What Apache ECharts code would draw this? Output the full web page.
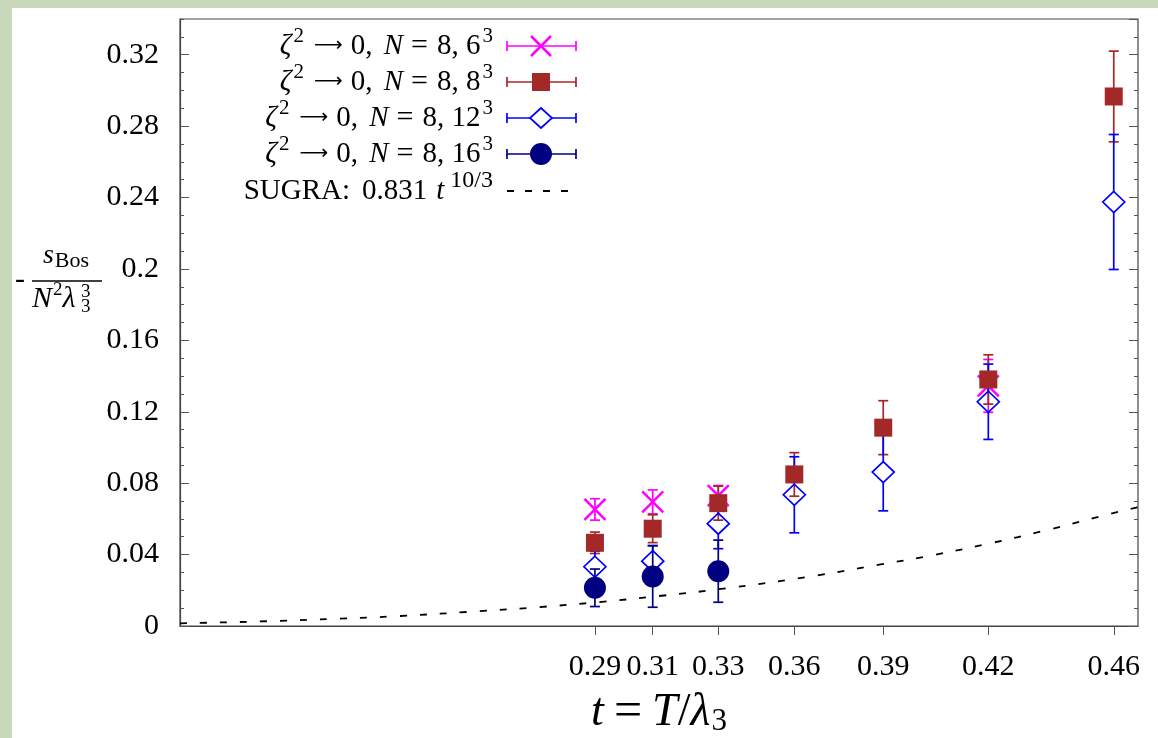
<!DOCTYPE html>
<html><head><meta charset="utf-8">
<script src="https://cdn.jsdelivr.net/npm/echarts@6/dist/echarts.min.js"></script>
<style>
html,body{margin:0;padding:0;background:#fff;width:1158px;height:738px;overflow:hidden}
#stripL{position:absolute;left:0;top:0;width:12px;height:738px;background:#c9d8bb}
#stripT{position:absolute;left:0;top:0;width:1158px;height:8px;background:#c9d8bb}
#chart{position:absolute;left:0;top:0;width:1158px;height:738px}
</style></head><body>
<div id="stripL"></div><div id="stripT"></div><div id="chart"></div>
<script>
// ---- data ----
const tValues   = [0.2886, 0.3079, 0.3298, 0.3552, 0.3849, 0.4200, 0.4619];
const tickLabels = ['0.29', '0.31', '0.33', '0.36', '0.39', '0.42', '0.46'];

const s6Vals  = [0.0653, 0.0695, 0.0730, null, null, 0.1345, null];
const s6Errs  = [0.0060, 0.0067, 0.0057, null, null, 0.0148, null];
const s8Vals  = [0.0466, 0.0545, 0.0688, 0.0849, 0.1111, 0.1381, 0.2966];
const s8Errs  = [0.0060, 0.0078, 0.0095, 0.0122, 0.0151, 0.0138, 0.0254];
const s12Vals = [0.0332, 0.0363, 0.0573, 0.0735, 0.0862, 0.1256, 0.2375];
const s12Errs = [0.0087, 0.0088, 0.0140, 0.0213, 0.0217, 0.0211, 0.0378];
const s16Vals = [0.0214, 0.0277, 0.0307, null, null, null, null];
const s16Errs = [0.0105, 0.0172, 0.0174, null, null, null, null];

const sugraT    = [0.15, 0.18, 0.20, 0.22, 0.25, 0.27, 0.29, 0.31, 0.33, 0.36, 0.384, 0.40, 0.42, 0.44, 0.46, 0.47];
const sugraVals = [0.0015, 0.0027, 0.0039, 0.0053, 0.0083, 0.0106, 0.0134, 0.0168, 0.0206, 0.0276, 0.0345, 0.0392, 0.0461, 0.0539, 0.0625, 0.0665];

// ---- styling ----
const F = '"Liberation Serif", "DejaVu Serif", serif';
const FA = '"DejaVu Sans", "DejaVu Serif", sans-serif';
const C6 = '#ff00ff', C8 = '#a32828', C12 = '#0000ff', C16 = '#000080';

function pts(vals, errs) {
  const out = [];
  vals.forEach((v, i) => { if (v !== null) out.push([tValues[i], v, errs[i]]); });
  return out;
}

function errBar(color, gap) {
  return function (params, api) {
    const x = api.value(0), y = api.value(1), e = api.value(2);
    const c = api.coord([x, y]);
    const top = api.coord([x, y + e]);
    const bot = api.coord([x, y - e]);
    const cap = 5;
    const st = { stroke: color, lineWidth: 1.7 };
    const ch = [];
    if (gap > 0) {
      if (c[1] - gap > top[1]) ch.push({ type: 'line', shape: { x1: c[0], y1: top[1], x2: c[0], y2: c[1] - gap }, style: st });
      if (c[1] + gap < bot[1]) ch.push({ type: 'line', shape: { x1: c[0], y1: c[1] + gap, x2: c[0], y2: bot[1] }, style: st });
    } else {
      ch.push({ type: 'line', shape: { x1: c[0], y1: top[1], x2: c[0], y2: bot[1] }, style: st });
    }
    ch.push({ type: 'line', shape: { x1: c[0] - cap, y1: top[1], x2: c[0] + cap, y2: top[1] }, style: st });
    ch.push({ type: 'line', shape: { x1: c[0] - cap, y1: bot[1], x2: c[0] + cap, y2: bot[1] }, style: st });
    return { type: 'group', children: ch };
  };
}

function errSeries(name, vals, errs, color, gap) {
  return { name: name, type: 'custom', renderItem: errBar(color, gap), data: pts(vals, errs),
           encode: { x: 0, y: 1 }, z: 3, silent: true, clip: false };
}

const XPATH = 'path://M0,0L20,20M20,0L0,20';

// rich styles for legend text
const legRich = {
  r:   { fontSize: 29, fontFamily: F, color: '#000' },
  g:   { fontSize: 29, fontFamily: F, color: '#000', padding: [0, 0, 0, 12] },
  i:   { fontSize: 29, fontFamily: F, fontStyle: 'italic', color: '#000' },
  n:   { fontSize: 29, fontFamily: F, fontStyle: 'italic', color: '#000', padding: [0, 0, 0, 4] },
  t:   { fontSize: 29, fontFamily: F, fontStyle: 'italic', color: '#000', padding: [0, 2, 0, 9] },
  arr: { fontSize: 20, fontFamily: FA, color: '#000', padding: [0, 8, 0, 10] },
  eq:  { fontSize: 30, fontFamily: F, color: '#000', padding: [0, 9, 0, 8] },
  sup: { fontSize: 21, fontFamily: F, color: '#000', padding: [0, 0, 20, 2] },
  sup2:{ fontSize: 24, fontFamily: F, color: '#000', padding: [0, 0, 20, 4] }
};

// ---- legend (drawn as graphic) ----
const legTxt = (n) => '{i|ζ}{sup|2}{arr|⟶}{r|0, }{n|N}{eq|=}{r|8, ' + n + '}{sup|3}';
const legendRows = [
  { y: 46,  color: C6,  mark: 'x',       text: legTxt('6') },
  { y: 82,  color: C8,  mark: 'square',  text: legTxt('8') },
  { y: 118, color: C12, mark: 'diamond', text: legTxt('12') },
  { y: 154, color: C16, mark: 'circle',  text: legTxt('16') },
  { y: 191, color: '#000', mark: 'dash', text: '{r|SUGRA:}{g|0.831}{t|t}{sup2|10/3}' }
];
const LX1 = 507, LX2 = 576, LXM = 541;
const legendEls = [];
legendRows.forEach(r => {
  legendEls.push({ type: 'text', x: 493, y: r.y, style: { text: r.text, rich: legRich, align: 'right', verticalAlign: 'middle', font: '29px ' + F, fill: '#000' } });
  if (r.mark === 'dash') {
    legendEls.push({ type: 'line', shape: { x1: LX1, y1: r.y, x2: LX2, y2: r.y }, style: { stroke: '#000', lineWidth: 1.8, lineDash: [7, 11] } });
    return;
  }
  const st = { stroke: r.color, lineWidth: 1.7 };
  legendEls.push({ type: 'line', shape: { x1: LX1, y1: r.y, x2: LX2, y2: r.y }, style: st });
  legendEls.push({ type: 'line', shape: { x1: LX1, y1: r.y - 5, x2: LX1, y2: r.y + 5 }, style: st });
  legendEls.push({ type: 'line', shape: { x1: LX2, y1: r.y - 5, x2: LX2, y2: r.y + 5 }, style: st });
  if (r.mark === 'x') {
    legendEls.push({ type: 'line', shape: { x1: LXM - 10, y1: r.y - 10, x2: LXM + 10, y2: r.y + 10 }, style: { stroke: r.color, lineWidth: 2.5 } });
    legendEls.push({ type: 'line', shape: { x1: LXM - 10, y1: r.y + 10, x2: LXM + 10, y2: r.y - 10 }, style: { stroke: r.color, lineWidth: 2.5 } });
  } else if (r.mark === 'square') {
    legendEls.push({ type: 'rect', shape: { x: LXM - 9, y: r.y - 9, width: 18, height: 18 }, style: { fill: r.color } });
  } else if (r.mark === 'diamond') {
    legendEls.push({ type: 'polygon', shape: { points: [[LXM, r.y - 10], [LXM + 11, r.y], [LXM, r.y + 10], [LXM - 11, r.y]] }, style: { fill: '#fff', stroke: r.color, lineWidth: 1.7 } });
  } else if (r.mark === 'circle') {
    legendEls.push({ type: 'circle', shape: { cx: LXM, cy: r.y, r: 11 }, style: { fill: r.color } });
  }
});

// ---- y-axis title (fraction) ----
const yTitle = [
  { type: 'text', x: 20, y: 280, style: { text: '-', font: '30px ' + F, fill: '#000', align: 'center', verticalAlign: 'middle' } },
  { type: 'text', x: 66, y: 256, style: { text: '{i|s}{sub|Bos}', rich: { i: { fontSize: 28, fontFamily: F, fontStyle: 'italic' }, sub: { fontSize: 22, fontFamily: F, padding: [11, 0, 0, 1] } }, align: 'center', verticalAlign: 'middle', fill: '#000' } },
  { type: 'line', shape: { x1: 32, y1: 281, x2: 102, y2: 281 }, style: { stroke: '#000', lineWidth: 1.3 } },
  { type: 'text', x: 32, y: 299, style: { text: '{i|N}{sup|2}{i|λ}', rich: { i: { fontSize: 30, fontFamily: F, fontStyle: 'italic' }, sup: { fontSize: 19, fontFamily: F, padding: [0, 0, 18, 1] } }, align: 'left', verticalAlign: 'middle', fill: '#000' } },
  { type: 'text', x: 81, y: 292, style: { text: '3', font: '19px ' + F, fill: '#000', align: 'left', verticalAlign: 'middle' } },
  { type: 'text', x: 81, y: 307, style: { text: '3', font: '19px ' + F, fill: '#000', align: 'left', verticalAlign: 'middle' } }
];

function yAxisDef(pos, interval, len, labels) {
  return {
    type: 'value', position: pos, min: 0, max: 0.34, interval: interval,
    axisLine: { show: labels, lineStyle: { color: '#444', width: 1.2 } },
    axisTick: { show: true, inside: true, length: len, lineStyle: { color: '#555', width: 1 } },
    axisLabel: { show: labels, fontFamily: F, fontSize: 30, color: '#000', margin: 21, showMaxLabel: false },
    splitLine: { show: false }
  };
}

const chart = echarts.init(document.getElementById('chart'), null, { renderer: 'canvas' });
chart.setOption({
  backgroundColor: 'transparent',
  animation: false,
  grid: { left: 180, right: 20, top: 19, bottom: 112, containLabel: false, outerBoundsMode: 'none',
          show: true, borderColor: '#444', borderWidth: 1.2, backgroundColor: '#fff' },
  xAxis: {
    type: 'value', min: 0.15, max: 0.47,
    axisLine: { show: true, lineStyle: { color: '#444', width: 1.2 } },
    axisTick: { show: true, inside: false, length: 9, customValues: tValues, lineStyle: { color: '#555' } },
    axisLabel: {
      customValues: tValues, fontFamily: F, fontSize: 30, color: '#000', margin: 26,
      formatter: function (v) {
        let best = 0;
        tValues.forEach((t, i) => { if (Math.abs(t - v) < Math.abs(tValues[best] - v)) best = i; });
        return tickLabels[best];
      }
    },
    splitLine: { show: false },
    name: '{i|t}{eq|=}{i|T}{r|/}{i|λ}{sub|3}',
    nameLocation: 'middle', nameGap: 62,
    nameTextStyle: { fontFamily: F, fontSize: 46, color: '#000', rich: {
      r:   { fontSize: 46, fontFamily: F, color: '#000' },
      i:   { fontSize: 46, fontFamily: F, fontStyle: 'italic', color: '#000' },
      eq:  { fontSize: 50, fontFamily: F, color: '#000', padding: [0, 10, 0, 10] },
      sub: { fontSize: 31, fontFamily: F, color: '#000', padding: [18, 0, 0, 1] }
    } }
  },
  yAxis: [
    yAxisDef('left', 0.04, 9, true),
    yAxisDef('left', 0.01, 4, false),
    yAxisDef('right', 0.04, 9, false),
    yAxisDef('right', 0.01, 4, false)
  ],
  graphic: legendEls.concat(yTitle),
  series: [
    errSeries('e6', s6Vals, s6Errs, C6, 0),
    { name: 'N=8, 6^3', type: 'scatter', data: pts(s6Vals, s6Errs), symbol: XPATH, symbolSize: 21, z: 3,
      itemStyle: { color: 'transparent', borderColor: C6, borderWidth: 2.5, opacity: 1 } },
    errSeries('e8', s8Vals, s8Errs, C8, 0),
    { name: 'N=8, 8^3', type: 'scatter', data: pts(s8Vals, s8Errs), symbol: 'rect', symbolSize: 18, z: 3,
      itemStyle: { color: C8, opacity: 1 } },
    errSeries('e12', s12Vals, s12Errs, C12, 10),
    { name: 'N=8, 12^3', type: 'scatter', data: pts(s12Vals, s12Errs), symbol: 'diamond', symbolSize: [22, 21], z: 3,
      itemStyle: { color: 'transparent', borderColor: C12, borderWidth: 1.7, opacity: 1 } },
    errSeries('e16', s16Vals, s16Errs, C16, 0),
    { name: 'N=8, 16^3', type: 'scatter', data: pts(s16Vals, s16Errs), symbol: 'circle', symbolSize: 22, z: 3,
      itemStyle: { color: C16, opacity: 1 } },
    { name: 'SUGRA', type: 'line', smooth: true, showSymbol: false, symbol: 'none', z: 4,
      data: sugraT.map((t, i) => [t, sugraVals[i]]),
      lineStyle: { color: '#000', width: 1.8, type: [7, 13] } }
  ]
});
</script>
</body></html>
